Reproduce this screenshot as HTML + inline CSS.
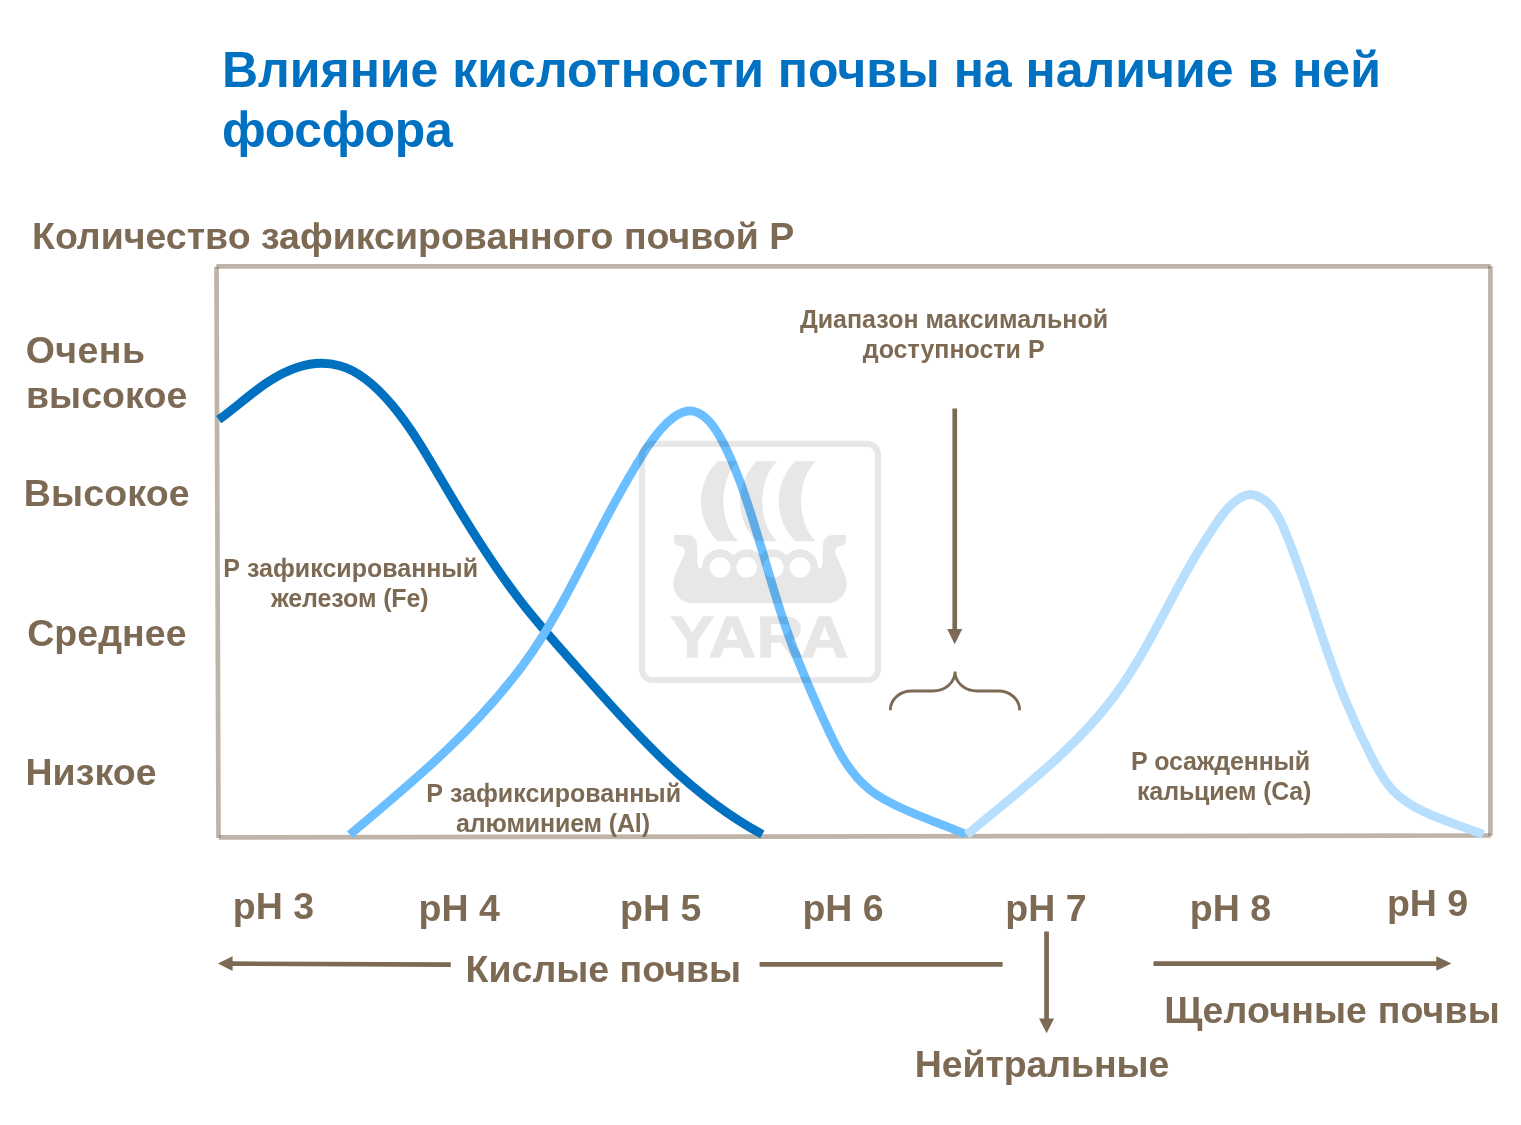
<!DOCTYPE html>
<html lang="ru"><head><meta charset="utf-8"><title>Влияние кислотности почвы на наличие в ней фосфора</title>
<style>
html,body{margin:0;padding:0;background:#fff}
body{width:1521px;height:1125px;overflow:hidden}
svg{display:block}
text{font-family:"Liberation Sans",sans-serif;font-weight:bold}
.t{fill:#7d6a54}.b{fill:#0070c0}
</style></head><body>
<svg width="1521" height="1125" viewBox="0 0 1521 1125">
<rect width="1521" height="1125" fill="#fff"/>
<g stroke="#7d6a54" stroke-opacity="0.5" stroke-width="4.7" fill="none">
<line x1="216.3" y1="266.4" x2="1490.7" y2="266.4"/>
<line x1="1490.4" y1="266" x2="1490.4" y2="835.7"/>
<line x1="218.7" y1="837.4" x2="1490.7" y2="835.5"/>
<line x1="216.5" y1="266.8" x2="218.5" y2="837.9"/>
</g>
<g fill="none" stroke-linejoin="round">
<path stroke="#0070c0" stroke-width="8.9" d="M218.7 419.7C242.1 403.2 267.0 377.1 297.1 367.4C311.0 362.9 326.1 362.0 339.7 365.7C360.3 371.3 377.6 387.7 392.2 405.2C412.1 429.1 426.8 455.0 442.1 481.1C467.2 524.0 493.7 567.2 524.6 606.3C540.7 626.6 557.9 645.8 575.1 665.1C631.2 728.4 686.8 793.7 762.3 834.4"/>
<path stroke="#6bbeff" stroke-width="8.7" d="M349.7 834.7C415.7 779.6 484.4 722.4 533.1 650.7C556.8 615.8 575.7 577.5 595.0 539.9C610.7 509.3 626.7 479.3 645.6 450.0C653.3 437.9 661.6 426.0 673.4 417.5C678.4 413.9 683.9 411.0 689.4 410.9C694.8 410.8 700.2 413.5 704.8 417.2C712.6 423.5 718.0 432.8 722.8 442.0C729.4 454.8 734.7 467.4 739.5 480.2C757.6 528.6 769.4 580.6 786.7 630.0C797.3 660.5 810.1 690.0 823.7 720.0C835.5 746.1 847.9 772.5 869.9 789.8C876.1 794.7 883.0 798.8 890.1 802.5C914.5 815.4 940.6 823.4 965.8 834.3"/>
<path stroke="#b8e0fe" stroke-width="9" d="M966.8 834.8C1017.7 792.0 1074.3 750.1 1114.5 696.0C1148.6 650.0 1170.9 595.1 1201.2 546.7C1203.8 542.5 1206.5 538.3 1209.3 534.0C1216.7 522.4 1224.2 510.1 1235.3 501.3C1240.1 497.6 1245.5 494.5 1251.0 494.6C1254.4 494.8 1257.8 496.1 1260.9 497.8C1273.8 505.0 1280.3 519.5 1286.1 533.9C1309.1 590.3 1322.1 643.3 1344.7 698.6C1353.1 719.2 1362.8 740.2 1372.8 759.5C1378.6 770.7 1384.4 781.4 1392.6 790.1C1414.5 813.5 1453.1 822.4 1483.3 834.5"/>
</g>
<defs>
<mask id="holes" maskUnits="userSpaceOnUse" x="630" y="430" width="260" height="260">
<rect x="630" y="430" width="260" height="260" fill="#fff"/>
<circle cx="720" cy="567.3" r="10.4" fill="#000"/>
<circle cx="746.7" cy="567.3" r="10.4" fill="#000"/>
<circle cx="773.3" cy="567.3" r="10.4" fill="#000"/>
<circle cx="800" cy="567.3" r="10.4" fill="#000"/>
</mask>
</defs>
<g opacity="0.09" fill="#000">
<rect x="642.1" y="443.8" width="235.8" height="236.2" rx="10.5" ry="10.5" fill="none" stroke="#000" stroke-width="6.2"/>
<path d="M717.6 461.3L738.2 461.3C728.5 470 723.3 486.5 723.3 501.3C723.3 516.1 728.5 532.6 738.2 541.3L717.6 541.3C706.8 530.2 701 516.2 701 501.3C701 486.4 706.8 472.4 717.6 461.3Z"/>
<path transform="translate(39 0)" d="M717.6 461.3L738.2 461.3C728.5 470 723.3 486.5 723.3 501.3C723.3 516.1 728.5 532.6 738.2 541.3L717.6 541.3C706.8 530.2 701 516.2 701 501.3C701 486.4 706.8 472.4 717.6 461.3Z"/>
<path transform="translate(77.7 0)" d="M717.6 461.3L738.2 461.3C728.5 470 723.3 486.5 723.3 501.3C723.3 516.1 728.5 532.6 738.2 541.3L717.6 541.3C706.8 530.2 701 516.2 701 501.3C701 486.4 706.8 472.4 717.6 461.3Z"/>
<g mask="url(#holes)">
<path d="M760 566L702.6 566.5C702.3 569.3 698.6 569.6 697.9 565.5C697.4 562 697.1 552 697.1 546C697.1 539.5 693 534.9 687 534.9L675 534.9Q674 534.9 674 536L674 540.5C674 543.5 676.5 546 680 546.3C683 546.6 685.5 549 684.8 552.5C683 560 673.3 574 673.3 583.5C673.3 594.5 682 603.3 692.5 603.3L760 603.3Z"/>
<path transform="translate(1520 0) scale(-1 1)" d="M760 566L702.6 566.5C702.3 569.3 698.6 569.6 697.9 565.5C697.4 562 697.1 552 697.1 546C697.1 539.5 693 534.9 687 534.9L675 534.9Q674 534.9 674 536L674 540.5C674 543.5 676.5 546 680 546.3C683 546.6 685.5 549 684.8 552.5C683 560 673.3 574 673.3 583.5C673.3 594.5 682 603.3 692.5 603.3L760 603.3Z"/>
<circle cx="720" cy="567.3" r="18"/>
<circle cx="746.7" cy="567.3" r="18"/>
<circle cx="773.3" cy="567.3" r="18"/>
<circle cx="800" cy="567.3" r="18"/>
</g>
<text transform="translate(670.5 656.9) scale(1.14 1)" x="0 33.4 75.4 114.4" y="0" font-size="57.5" stroke="#000" stroke-width="1.3" stroke-linejoin="miter">YARA</text>
</g>
<g fill="#7d6a54" stroke="none">
<path d="M952.4 408.5h4.7v220.5h5.1l-7.5 15.3l-7.5-15.3h5.2z"/>
<path d="M1044.2 931.5h4.7v86.9h5.2l-7.5 14.8l-7.6-14.8h5.2z"/>
<path d="M217.9 963.6l14.7-7.4v5.1l218.2 0.9v4.7l-218.2-0.9v5.1z"/>
<path d="M759.6 962.1h243v4.7h-243z"/>
<path d="M1153.5 961.2h282.8v-5l15.1 7.3l-15.1 7.3v-4.9h-282.8z"/>
</g>
<path fill="none" stroke="#7d6a54" stroke-width="2.8" d="M890.3 710.2C890.3 699.5 899.5 691 912 691L932.5 691C945.5 691 955 682.5 955 671.6C955 682.5 964.5 691 977.5 691L998 691C1010.5 691 1019.6 699.5 1019.6 710.2"/>
<text class="b" x="221.90" y="86.60" font-size="50.00">Влияние кислотности почвы на наличие в ней</text>
<text class="b" x="222.10" y="146.70" font-size="50.00" letter-spacing="-0.350">фосфора</text>
<text class="t" x="32.00" y="248.70" font-size="37.50">Количество зафиксированного почвой Р</text>
<text class="t" x="25.70" y="363.44" font-size="37.50" letter-spacing="0.450">Очень</text>
<text class="t" x="25.95" y="408.04" font-size="37.50" letter-spacing="0.070">высокое</text>
<text class="t" x="23.80" y="505.60" font-size="37.50" letter-spacing="0.150">Высокое</text>
<text class="t" x="27.20" y="646.14" font-size="37.50" letter-spacing="0.050">Среднее</text>
<text class="t" x="25.45" y="784.64" font-size="37.50" letter-spacing="0.080">Низкое</text>
<text class="t" x="799.95" y="327.50" font-size="25.00">Диапазон максимальной</text>
<text class="t" x="862.80" y="358.30" font-size="25.00">доступности Р</text>
<text class="t" x="223.35" y="576.90" font-size="25.00">Р зафиксированный</text>
<text class="t" x="271.00" y="606.70" font-size="25.00" letter-spacing="-0.100">железом (Fe)</text>
<text class="t" x="426.35" y="801.50" font-size="25.00">Р зафиксированный</text>
<text class="t" x="456.00" y="832.00" font-size="25.00" letter-spacing="-0.140">алюминием (Al)</text>
<text class="t" x="1131.00" y="769.60" font-size="25.00" letter-spacing="-0.180">Р осажденный</text>
<text class="t" x="1137.00" y="799.90" font-size="25.00" letter-spacing="-0.140">кальцием (Ca)</text>
<text class="t" x="232.80" y="919.40" font-size="37.50">pH 3</text>
<text class="t" x="418.60" y="921.10" font-size="37.50">pH 4</text>
<text class="t" x="620.00" y="921.10" font-size="37.50">pH 5</text>
<text class="t" x="802.45" y="921.10" font-size="37.50">pH 6</text>
<text class="t" x="1005.30" y="921.40" font-size="37.50">pH 7</text>
<text class="t" x="1189.80" y="921.00" font-size="37.50">pH 8</text>
<text class="t" x="1386.90" y="916.10" font-size="37.50">pH 9</text>
<text class="t" x="465.60" y="981.50" font-size="37.50">Кислые почвы</text>
<text class="t" x="1164.25" y="1022.90" font-size="37.50" letter-spacing="0.150">Щелочные почвы</text>
<text class="t" x="914.80" y="1077.10" font-size="37.50" letter-spacing="-0.100">Нейтральные</text>
</svg>
</body></html>
